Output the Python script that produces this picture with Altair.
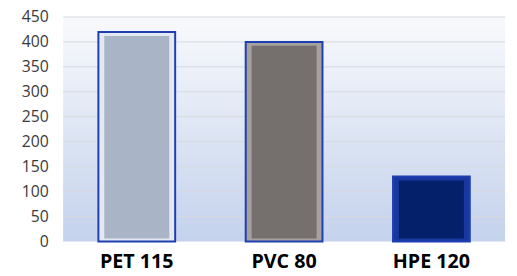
import altair as alt
import pandas as pd

categories = ["PET 115", "PVC 80", "HPE 120"]
values = [420, 400, 130]
inner_colors = ["#a9b4c6", "#75706e", "#04206a"]
bevel_colors = ["#e4e9f1", "#a5a19e", "#1838a0"]
y_ticks = [0, 50, 100, 150, 200, 250, 300, 350, 400, 450]

df = pd.DataFrame({"cat": categories, "val": values,
                   "inner": inner_colors, "bevel": bevel_colors})
grid_df = pd.DataFrame({"val": y_ticks[1:]})

W, H = 449, 228

x = alt.X("cat:N", sort=categories, title=None,
          scale=alt.Scale(paddingInner=0.0, paddingOuter=0.0),
          axis=alt.Axis(labelAngle=0, labelFont="Open Sans", labelFontWeight="bold",
                        labelFontSize=20, labelColor="#000000", ticks=False,
                        domain=False, labelPadding=11, grid=False))
yscale = alt.Scale(domain=[0, 450], nice=False)
yaxis = alt.Axis(values=y_ticks, labelFont="Open Sans", labelFontSize=16,
                 labelColor="#3a3a3a", ticks=False, domain=False,
                 labelPadding=15, grid=False, minExtent=50, maxExtent=50)
y = alt.Y("val:Q", title=None, scale=yscale, axis=yaxis, stack=None)

bg = alt.Chart(pd.DataFrame({"a": [0]})).mark_rect(
    color=alt.Gradient(gradient="linear", x1=0, x2=0, y1=0, y2=1,
                       stops=[alt.GradientStop(offset=0, color="#f8f9fc"),
                              alt.GradientStop(offset=1, color="#c4d2ec")])
).encode(x=alt.value(0), x2=alt.value(W), y=alt.value(0), y2=alt.value(H))

grid = alt.Chart(grid_df).mark_rule(color="#d6d9de", strokeWidth=1).encode(y=y)

outer = alt.Chart(df).mark_bar(size=78, stroke="#1e3fb0", strokeWidth=2).encode(
    x=x, y=y, y2=alt.Y2Datum(0), color=alt.Color("bevel:N", scale=None))
inner = alt.Chart(df).mark_bar(size=66, yOffset=4, y2Offset=-3).encode(
    x=x, y=y, y2=alt.Y2Datum(0), color=alt.Color("inner:N", scale=None))

chart = alt.layer(bg, grid, outer, inner).properties(
    width=W, height=H,
    autosize=alt.AutoSizeParams(type="none"),
    padding={"left": 56, "top": 7, "right": 4, "bottom": 33},
).configure_view(stroke=None)

chart.save("out.html", embed_options={"renderer": "svg", "actions": False})
